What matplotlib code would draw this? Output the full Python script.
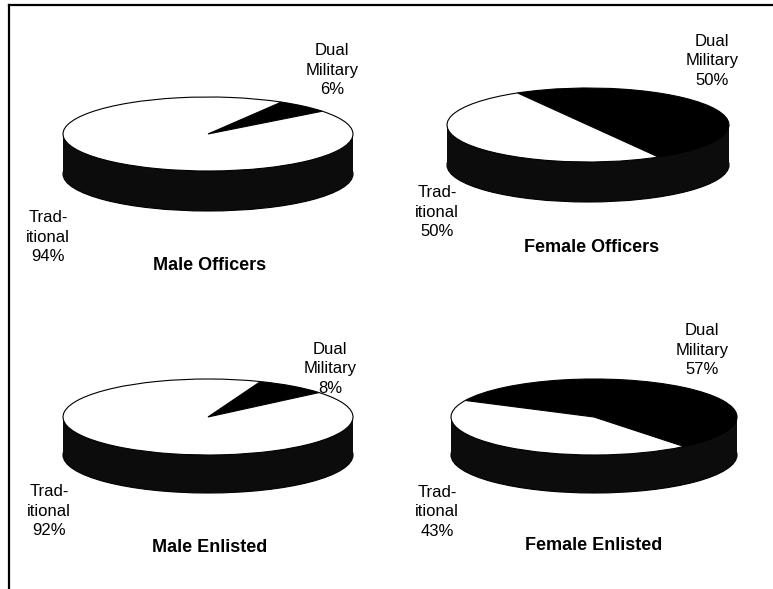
import matplotlib
matplotlib.use("Agg")
import matplotlib.pyplot as plt
from matplotlib.patches import Ellipse, Rectangle

plt.rcParams['font.family'] = ['Liberation Sans', 'DejaVu Sans']

W, H = 773, 589

# data
groups = ['Male Officers', 'Female Officers', 'Male Enlisted', 'Female Enlisted']
dual_pct = [6, 50, 8, 57]
trad_pct = [94, 50, 92, 43]

# layout (pixels): pie centre, half-width, half-height, rim depth, start angle of dual slice
centers = [(208, 134), (588, 125), (208, 417), (594, 417)]
half_w = [145, 141, 145, 143]
half_h = [37, 37, 38, 38]
depths = [40, 40, 38, 38]
start_angles = [38, -60, 40, -51]
dual_lbl_pos = [(332, 70), (712, 61), (330, 369), (702, 350)]
trad_lbl_pos = [(48, 237), (437, 212), (49, 511), (437, 512)]
title_pos = [(210, 265), (592, 248), (210, 547), (594, 545)]

fig = plt.figure(figsize=(W / 100, H / 100), dpi=100)


def px(x, y):
    return x / W, 1 - y / H


for i, name in enumerate(groups):
    cx, cy = centers[i]
    a, b = half_w[i], half_h[i]
    d = depths[i] / b
    pad = 0.05
    width = (2 + 2 * pad) * a
    height = (2 + 2 * pad + d) * b
    left = cx - (1 + pad) * a
    top = cy - (1 + pad) * b
    ax = fig.add_axes([left / W, 1 - (top + height) / H, width / W, height / H])

    # dark rim of the 3d pie
    ax.add_patch(Ellipse((0, -d), 2, 2, facecolor='#0c0c0c', edgecolor='black', lw=0.8))
    ax.add_patch(Rectangle((-1, -d), 2, d, facecolor='#0c0c0c', edgecolor='none'))

    ax.pie([dual_pct[i], trad_pct[i]], colors=['black', 'white'],
           startangle=start_angles[i], counterclock=True,
           wedgeprops=dict(edgecolor='black', linewidth=0.8))
    ax.set_aspect('auto')
    ax.set_xlim(-1 - pad, 1 + pad)
    ax.set_ylim(-1 - pad - d, 1 + pad)
    ax.axis('off')

    x, y = dual_lbl_pos[i]
    fig.text(*px(x, y), f"Dual\nMilitary\n{dual_pct[i]}%", ha='center', va='center',
             fontsize=12, linespacing=1.4)
    x, y = trad_lbl_pos[i]
    fig.text(*px(x, y), f"Trad-\nitional\n{trad_pct[i]}%", ha='center', va='center',
             fontsize=12, linespacing=1.4)
    x, y = title_pos[i]
    fig.text(*px(x, y), name, ha='center', va='center', fontsize=13, fontweight='bold')

# frame lines on top and left
fig.add_artist(plt.Line2D([9 / W, 1], [1 - 5 / H, 1 - 5 / H], color='black', lw=1.6))
fig.add_artist(plt.Line2D([9 / W, 9 / W], [1 - 5 / H, 0], color='black', lw=1.6))

fig.savefig('out.png', dpi=100)
